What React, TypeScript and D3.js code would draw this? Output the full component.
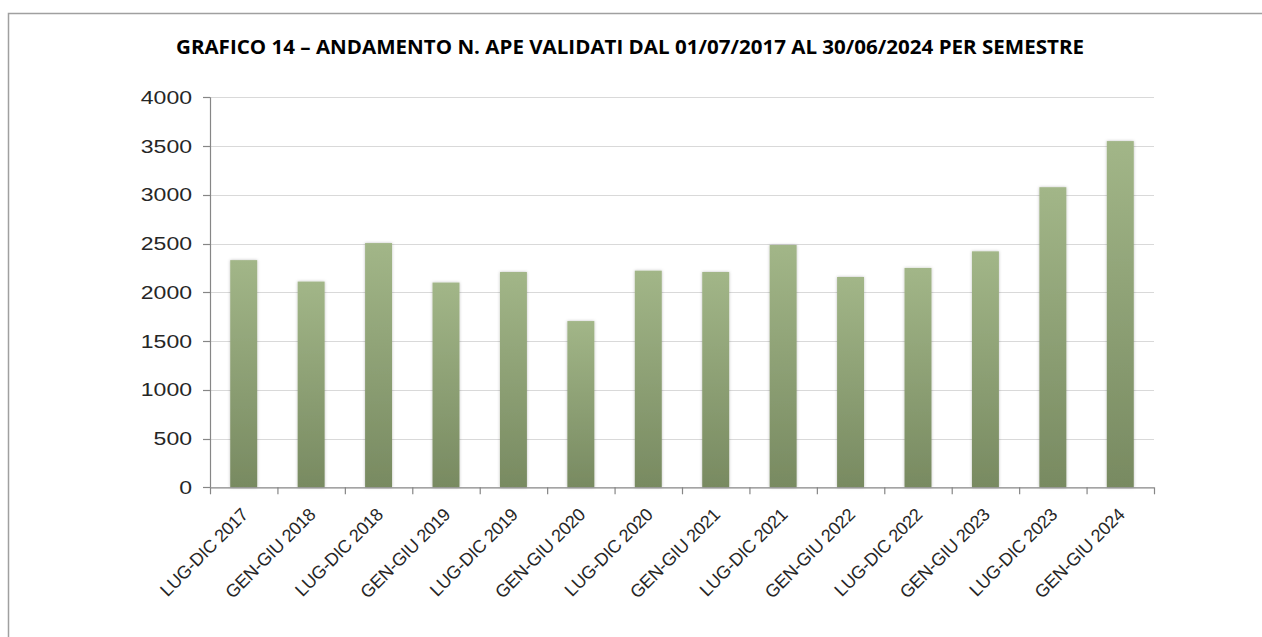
import { useEffect, useRef } from "react";
import * as d3 from "d3";

const TITLE = "GRAFICO 14 – ANDAMENTO N. APE VALIDATI DAL 01/07/2017 AL 30/06/2024 PER SEMESTRE";

const semesters = [
  "LUG-DIC 2017",
  "GEN-GIU 2018",
  "LUG-DIC 2018",
  "GEN-GIU 2019",
  "LUG-DIC 2019",
  "GEN-GIU 2020",
  "LUG-DIC 2020",
  "GEN-GIU 2021",
  "LUG-DIC 2021",
  "GEN-GIU 2022",
  "LUG-DIC 2022",
  "GEN-GIU 2023",
  "LUG-DIC 2023",
  "GEN-GIU 2024",
];

const apeValidati = [2330, 2110, 2505, 2100, 2208, 1705, 2222, 2208, 2485, 2157, 2250, 2420, 3078, 3551];

const yTicks = [0, 500, 1000, 1500, 2000, 2500, 3000, 3500, 4000];

const W = 1262;
const H = 637;

export default function App() {
  const svgRef = useRef<SVGSVGElement>(null);

  useEffect(() => {
    if (!svgRef.current) return;
    const svg = d3.select(svgRef.current);
    svg.selectAll("*").remove();

    const left = 210;
    const right = 1154;
    const top = 97.3;
    const bottom = 487.3;

    const x = d3
      .scaleBand<string>()
      .domain(semesters)
      .range([left, right])
      .paddingInner(0.6)
      .paddingOuter(0.3);
    const y = d3.scaleLinear().domain([0, 4000]).range([bottom, top]);

    const defs = svg.append("defs");
    const grad = defs
      .append("linearGradient")
      .attr("id", "barGrad")
      .attr("x1", 0)
      .attr("y1", 0)
      .attr("x2", 0)
      .attr("y2", 1);
    grad.append("stop").attr("offset", "0%").attr("stop-color", "#a2b688");
    grad.append("stop").attr("offset", "100%").attr("stop-color", "#788a61");

    const shadow = defs.append("filter").attr("id", "barShadow").attr("x", "-30%").attr("y", "-5%").attr("width", "160%").attr("height", "110%");
    shadow
      .append("feDropShadow")
      .attr("dx", 0)
      .attr("dy", 0)
      .attr("stdDeviation", 1.5)
      .attr("flood-color", "#000")
      .attr("flood-opacity", 0.25);

    // outer frame (runs off the right/bottom of the picture)
    svg
      .append("rect")
      .attr("x", 8.5)
      .attr("y", 13.5)
      .attr("width", W + 20)
      .attr("height", H + 20)
      .attr("fill", "none")
      .attr("stroke", "#a0a0a0")
      .attr("stroke-width", 1.5);

    // title
    svg
      .append("text")
      .attr("x", 630)
      .attr("y", 54)
      .attr("text-anchor", "middle")
      .attr("font-family", "'Open Sans', sans-serif")
      .attr("font-weight", 700)
      .attr("font-size", "19px")
      .attr("fill", "#000")
      .attr("textLength", 908)
      .attr("lengthAdjust", "spacingAndGlyphs")
      .text(TITLE);

    // gridlines
    svg
      .append("g")
      .selectAll("line")
      .data(yTicks.filter((t) => t > 0))
      .join("line")
      .attr("x1", left)
      .attr("x2", right)
      .attr("y1", (d) => Math.round(y(d)) + 0.5)
      .attr("y2", (d) => Math.round(y(d)) + 0.5)
      .attr("stroke", "#d9d9d9")
      .attr("stroke-width", 1.2);

    // bars
    svg
      .append("g")
      .selectAll("rect")
      .data(apeValidati)
      .join("rect")
      .attr("x", (_d, i) => x(semesters[i])!)
      .attr("y", (d) => y(d))
      .attr("width", x.bandwidth())
      .attr("height", (d) => bottom - y(d))
      .attr("fill", "url(#barGrad)")
      .attr("filter", "url(#barShadow)");

    // y axis
    const yAxis = svg.append("g");
    yAxis
      .append("line")
      .attr("x1", left + 0.5)
      .attr("x2", left + 0.5)
      .attr("y1", top)
      .attr("y2", bottom)
      .attr("stroke", "#868686")
      .attr("stroke-width", 1.2);
    yAxis
      .selectAll("line.tick")
      .data(yTicks)
      .join("line")
      .attr("class", "tick")
      .attr("x1", left - 7)
      .attr("x2", left)
      .attr("y1", (d) => Math.round(y(d)) + 0.5)
      .attr("y2", (d) => Math.round(y(d)) + 0.5)
      .attr("stroke", "#868686")
      .attr("stroke-width", 1.2);
    yAxis
      .selectAll("text")
      .data(yTicks)
      .join("text")
      .attr("transform", (d) => `translate(192,${y(d)}) scale(1.28,1)`)
      .attr("dy", "0.36em")
      .attr("text-anchor", "end")
      .attr("font-family", "'Liberation Sans', Arial, sans-serif")
      .attr("font-size", "18px")
      .attr("fill", "#262626")
      .text((d) => String(d));

    // x axis
    const xAxis = svg.append("g");
    xAxis
      .append("line")
      .attr("x1", left)
      .attr("x2", right)
      .attr("y1", bottom + 0.5)
      .attr("y2", bottom + 0.5)
      .attr("stroke", "#868686")
      .attr("stroke-width", 1.2);
    const step = x.step();
    xAxis
      .selectAll("line.tick")
      .data(d3.range(semesters.length + 1))
      .join("line")
      .attr("class", "tick")
      .attr("x1", (i) => left + i * step + 0.5)
      .attr("x2", (i) => left + i * step + 0.5)
      .attr("y1", bottom)
      .attr("y2", bottom + 7)
      .attr("stroke", "#868686")
      .attr("stroke-width", 1.2);
    xAxis
      .selectAll("text")
      .data(semesters)
      .join("text")
      .attr("transform", (d) => `translate(${x(d)! + x.bandwidth() / 2 + 1},${bottom + 24}) rotate(-45)`)
      .attr("text-anchor", "end")
      .attr("dy", "0.35em")
      .attr("font-family", "'Liberation Sans', Arial, sans-serif")
      .attr("font-size", "18px")
      .attr("letter-spacing", "-0.3px")
      .attr("fill", "#262626")
      .text((d) => d);
  }, []);

  return (
    <svg
      ref={svgRef}
      width={W}
      height={H}
      style={{ position: "fixed", left: 0, top: 0, background: "#fff" }}
    />
  );
}
